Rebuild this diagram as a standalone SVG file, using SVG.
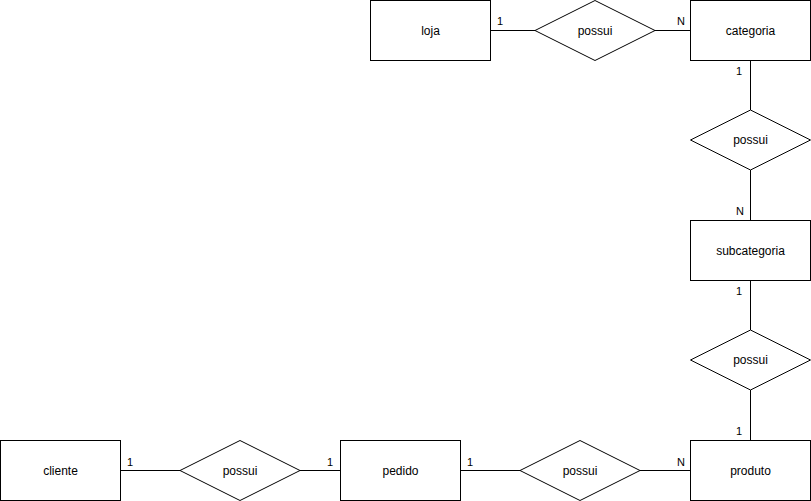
<svg xmlns="http://www.w3.org/2000/svg" width="811" height="501" viewBox="0 0 811 501">
  <style>
    .ent { fill: #ffffff; stroke: #000000; stroke-width: 1; }
    .rel { fill: #ffffff; stroke: #000000; stroke-width: 1; }
    .lbl { font-family: "Liberation Sans", Arial, Helvetica, sans-serif; font-size: 12px; fill: #000000; text-anchor: middle; }
    .card { font-family: "Liberation Sans", Arial, Helvetica, sans-serif; font-size: 11px; fill: #000000; }
    .edge { stroke: #000000; stroke-width: 1; fill: none; }
  </style>
  <rect width="811" height="501" fill="#ffffff"/>

  <!-- connectors -->
  <g id="connectors">
    <path class="edge" d="M490.5 30.5 H535"/>
    <path class="edge" d="M655 30.5 H690"/>
    <path class="edge" d="M750.5 60.5 V110"/>
    <path class="edge" d="M750.5 170 V220"/>
    <path class="edge" d="M750.5 280.5 V330"/>
    <path class="edge" d="M750.5 390 V440"/>
    <path class="edge" d="M640 470.5 H690"/>
    <path class="edge" d="M460.5 470.5 H520"/>
    <path class="edge" d="M300 470.5 H340"/>
    <path class="edge" d="M120.5 470.5 H180"/>
    <!-- cardinalities -->
    <text class="card" x="497" y="25">1</text>
    <text class="card" x="677" y="25">N</text>
    <text class="card" x="736" y="75">1</text>
    <text class="card" x="736" y="215">N</text>
    <text class="card" x="736" y="295">1</text>
    <text class="card" x="736" y="435">1</text>
    <text class="card" x="127" y="466">1</text>
    <text class="card" x="327" y="466">1</text>
    <text class="card" x="467" y="466">1</text>
    <text class="card" x="677" y="466">N</text>
  </g>

  <!-- entities -->
  <g id="loja">
    <rect class="ent" x="370.5" y="0.5" width="120" height="60"/>
    <text class="lbl" x="430.5" y="34.5">loja</text>
  </g>
  <g id="categoria">
    <rect class="ent" x="690.5" y="0.5" width="120" height="60"/>
    <text class="lbl" x="750.5" y="34.5">categoria</text>
  </g>
  <g id="subcategoria">
    <rect class="ent" x="690.5" y="220.5" width="120" height="60"/>
    <text class="lbl" x="750.5" y="254.5">subcategoria</text>
  </g>
  <g id="produto">
    <rect class="ent" x="690.5" y="440.5" width="120" height="60"/>
    <text class="lbl" x="750.5" y="474.5">produto</text>
  </g>
  <g id="pedido">
    <rect class="ent" x="340.5" y="440.5" width="120" height="60"/>
    <text class="lbl" x="400.5" y="474.5">pedido</text>
  </g>
  <g id="cliente">
    <rect class="ent" x="0.5" y="440.5" width="120" height="60"/>
    <text class="lbl" x="60.5" y="474.5">cliente</text>
  </g>

  <!-- relationships -->
  <g id="rel-loja-categoria">
    <polygon class="rel" points="595,0.5 655,30.5 595,60.5 535,30.5"/>
    <text class="lbl" x="595" y="34.5">possui</text>
  </g>
  <g id="rel-categoria-subcategoria">
    <polygon class="rel" points="750.5,110 810.5,140 750.5,170 690.5,140"/>
    <text class="lbl" x="750.5" y="144">possui</text>
  </g>
  <g id="rel-subcategoria-produto">
    <polygon class="rel" points="750.5,330 810.5,360 750.5,390 690.5,360"/>
    <text class="lbl" x="750.5" y="364">possui</text>
  </g>
  <g id="rel-pedido-produto">
    <polygon class="rel" points="580,440.5 640,470.5 580,500.5 520,470.5"/>
    <text class="lbl" x="580" y="474.5">possui</text>
  </g>
  <g id="rel-cliente-pedido">
    <polygon class="rel" points="240,440.5 300,470.5 240,500.5 180,470.5"/>
    <text class="lbl" x="240" y="474.5">possui</text>
  </g>
</svg>
